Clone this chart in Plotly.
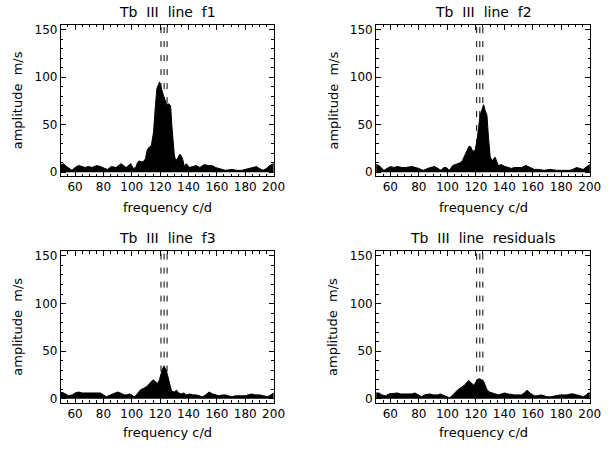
import plotly.graph_objects as go

# ---- data ----
freq_f1 = [50, 52, 54, 57.8, 60, 62.4, 65, 67, 69.4, 72, 75.1, 78, 80.9, 83, 85.5, 88.9, 92.4, 96, 99.3, 101,
           102.8, 104, 105.1, 106.5, 108, 109.6, 110.8, 112, 113.8, 114.5, 115.4, 116.5, 117.7, 118.8, 119.6,
           120.5, 121.5, 122.3, 123.5, 124.6, 125.8, 127.4, 128.2, 129.2, 130, 131, 132.5, 133.8, 135, 136.2,
           137, 138.4, 140.8, 143, 145.4, 148, 151.1, 154, 156.9, 159, 161.5, 164, 166.1, 170.7, 174, 177.6,
           180, 183.4, 186, 188, 190, 192.6, 195, 197.2, 200]
amp_f1 = [8, 9, 6, 2, 5, 7, 6, 5, 6, 5, 7, 6, 4, 3, 6, 5, 9, 5, 9, 4,
          5, 10, 12, 11, 11, 14, 23, 26, 28, 36, 43, 67, 88, 92, 95,
          90, 84, 81, 76, 71, 72, 70, 50, 26, 18, 12, 15, 19, 17, 12,
          6, 9, 5, 6, 7, 5, 8, 7, 7, 5, 4, 3, 2, 3, 2, 2,
          3, 4, 5, 6, 4, 2, 4, 7, 9]

freq_f2 = [50, 52, 55.5, 58, 60, 62.4, 65, 68.1, 71, 75, 78, 80, 83, 86, 88, 91, 93, 95.6, 97.5, 99.1,
           101.5, 103.7, 105.5, 107.1, 109, 110.5, 112.8, 114, 115.1, 116.3, 117.5, 118.5, 119.6, 120.8,
           121.9, 123, 124.3, 125.5, 126.5, 127.8, 128.9, 130.1, 131.5, 133.5, 134.5, 135.8, 138, 140.4,
           143, 145, 147, 149.5, 152, 155.3, 158, 161, 164, 168, 172, 177, 181, 186.2, 188, 190.8, 193,
           195.4, 197, 198.8, 200]
amp_f2 = [8, 7, 2, 4, 6, 5, 6, 5, 5, 6, 5, 4, 2, 4, 5, 6, 4, 2, 5, 5,
          2, 7, 8, 9, 10, 12, 19, 24, 27, 27, 23, 22, 24, 33,
          50, 60, 66, 71, 65, 60, 36, 16, 12, 16, 12, 7, 8, 6,
          5, 4, 5, 5, 5, 7, 5, 3, 3, 2, 3, 2, 2, 2, 3, 5, 4,
          3, 5, 7, 8]

freq_f3 = [50, 52, 55.5, 58, 60, 62.4, 65, 69, 72, 75, 78, 80, 82, 85, 88, 90, 92, 94.7, 96.5, 98.2,
           100, 101.6, 102.8, 104.5, 106.2, 108.5, 110.8, 112.5, 114, 115, 116.5, 118.4, 119.5, 120.8,
           121.8, 122.8, 124, 125.2, 126.3, 126.9, 128, 130, 131.5, 133, 135, 136.5, 138.4, 141, 143,
           145.4, 148, 150, 152, 154.6, 157, 159, 161.5, 164, 166, 168, 170.7, 173, 175, 177.6, 180,
           182, 184.5, 187, 190.3, 193, 196, 198, 199.5, 200]
amp_f3 = [7, 6, 3, 4, 6, 7, 6, 6, 6, 6, 6, 4, 2, 4, 6, 7, 6, 4, 4, 5,
          4, 2, 3, 6, 9.5, 11, 13, 16, 19, 20, 18, 16, 20, 27,
          32, 34, 31, 25, 18, 13, 8, 7, 9, 6, 5, 6, 4, 5, 4,
          4, 3, 2, 4, 7, 5, 4, 3, 4, 4, 3, 2, 3, 3, 3, 3,
          4, 5, 4, 4, 3, 2, 4, 6, 6]

freq_res = [50, 52, 54, 56.7, 59, 62.4, 65, 67, 69.3, 72, 75, 77.3, 79.5, 81.9, 84, 87.6, 90, 93.3, 95,
            96.8, 99, 101.4, 102.5, 103.7, 105.5, 107.1, 108.8, 110.5, 112, 113.5, 115.1, 116.5, 117.6,
            118.6, 119.8, 121, 122.5, 124, 125.5, 126.5, 127.8, 129.5, 131.2, 133, 135.8, 138, 140.4,
            142.5, 145, 147, 149.5, 152, 154, 156, 158, 161, 163, 165.6, 168, 170, 172.5, 175, 177,
            179.4, 182, 184, 186.3, 188.5, 190.9, 193, 195.5, 197.5, 198.9, 200]
amp_res = [6, 6, 4, 3, 5, 6, 6, 5, 5, 5, 5, 6, 4, 2, 4, 5, 4, 4, 5,
           4, 3, 1, 2, 4, 7, 9, 11, 12.4, 14, 17, 19, 17, 15,
           14, 17, 20, 21, 20, 18, 14, 9.6, 7, 6, 5, 4, 5, 6,
           5, 4, 4, 4, 4, 6, 9, 6, 3, 3, 4, 3, 2, 2, 3, 3,
           4, 4, 4, 5, 5, 4, 3, 2, 4, 6, 6]

titles = ["Tb III line f1", "Tb III line f2", "Tb III line f3", "Tb III line residuals"]
line_freqs = [120.6, 122.8, 124.9]
x_ticks = [60, 80, 100, 120, 140, 160, 180, 200]
y_ticks = [0, 50, 100, 150]
x_label = "frequency c/d"
y_label = "amplitude m/s"

series = [(freq_f1, amp_f1), (freq_f2, amp_f2), (freq_f3, amp_f3), (freq_res, amp_res)]

# ---- layout geometry ----
W, H = 613, 450
xdoms = [[62 / W, 279 / W], [383 / W, 601 / W]]
ydoms = [[1 - 176 / H, 1 - 23 / H], [1 - 405 / H, 1 - 252 / H]]
XR = [50, 200.3]
YR = [-4, 155]
FONT = "DejaVu Sans"


def nb(s):
    return s.replace(" ", "\u00a0 ")


fig = go.Figure()
annotations = []
shapes = []
for i, (fx, fy) in enumerate(series):
    n = "" if i == 0 else str(i + 1)
    xa, ya = "x" + n, "y" + n
    fig.add_trace(go.Scatter(x=fx, y=fy, mode="lines", fill="tozeroy",
                             fillcolor="black", line=dict(color="black", width=1),
                             xaxis=xa, yaxis=ya, showlegend=False, hoverinfo="skip"))
    col, row = i % 2, i // 2
    axcommon = dict(showline=True, linecolor="black", linewidth=1, mirror="ticks",
                    ticks="inside", ticklen=5, tickwidth=1, tickcolor="black",
                    showgrid=False, zeroline=False,
                    tickfont=dict(family=FONT, size=12, color="black"))
    fig.layout["xaxis" + n] = dict(domain=xdoms[col], range=XR, anchor=ya,
                                   tickvals=x_ticks,
                                   minor=dict(dtick=5, tick0=0, ticks="inside", ticklen=2.5,
                                              tickcolor="black", showgrid=False),
                                   **axcommon)
    fig.layout["yaxis" + n] = dict(domain=ydoms[row], range=YR, anchor=xa,
                                   tickvals=y_ticks,
                                   minor=dict(dtick=10, tick0=0, ticks="inside", ticklen=2.5,
                                              tickcolor="black", showgrid=False),
                                   **axcommon)
    xd, yd = xa + " domain", ya + " domain"
    annotations.append(dict(text=nb(titles[i]), x=0.5, y=1, xref=xd, yref=yd,
                            xanchor="center", yanchor="middle", yshift=13, showarrow=False,
                            font=dict(family=FONT, size=14, color="black")))
    annotations.append(dict(text=x_label, x=0.5, y=0, xref=xd, yref=yd,
                            xanchor="center", yanchor="middle", yshift=-31 if row == 0 else -30,
                            showarrow=False, font=dict(family=FONT, size=13, color="black")))
    annotations.append(dict(text=nb(y_label), x=0, y=0.5, xref=xd, yref=yd, textangle=-90,
                            xanchor="center", yanchor="middle", xshift=-43, showarrow=False,
                            font=dict(family=FONT, size=13, color="black")))
    for f in line_freqs:
        shapes.append(dict(type="line", xref=xa, yref=ya, x0=f, x1=f, y0=152.5, y1=0,
                           line=dict(color="black", width=1, dash="6px,8px")))

fig.update_layout(width=W, height=H, margin=dict(l=0, r=0, t=0, b=0),
                  paper_bgcolor="white", plot_bgcolor="white",
                  annotations=annotations, shapes=shapes)
fig.write_html("out.html", config={"displayModeBar": False},
               post_script="document.body.style.margin='0';document.body.style.overflow='hidden';")
